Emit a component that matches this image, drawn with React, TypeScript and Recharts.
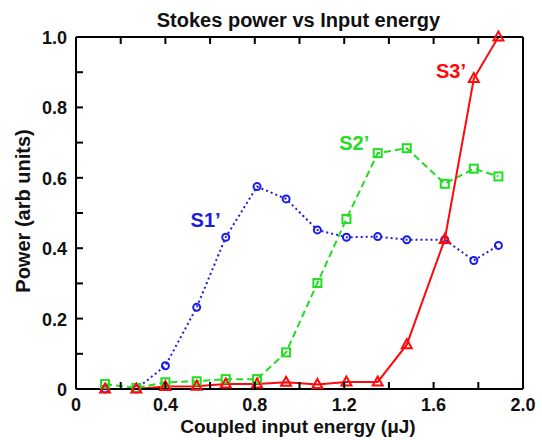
import React from 'react';
import {
  LineChart,
  Line,
  XAxis,
  YAxis,
  ReferenceDot,
} from 'recharts';

// coupled input energy (uJ)
const energy = [0.13, 0.27, 0.4, 0.54, 0.67, 0.81, 0.94, 1.08, 1.21, 1.35, 1.48, 1.65, 1.78, 1.89];
// stokes powers (arb units)
const s1 = [0.0, 0.0, 0.066, 0.232, 0.431, 0.575, 0.54, 0.452, 0.431, 0.433, 0.424, 0.424, 0.365, 0.408];
const s2 = [0.014, 0.003, 0.019, 0.022, 0.028, 0.028, 0.104, 0.301, 0.483, 0.67, 0.684, 0.583, 0.626, 0.604];
const s3 = [0.0, 0.0, 0.007, 0.008, 0.014, 0.014, 0.019, 0.013, 0.02, 0.02, 0.126, 0.425, 0.882, 1.0];

const xTicks = [0, 0.2, 0.4, 0.6, 0.8, 1.0, 1.2, 1.4, 1.6, 1.8, 2.0];
const xTickLabels: Record<string, string> = { '0': '0', '0.4': '0.4', '0.8': '0.8', '1.2': '1.2', '1.6': '1.6', '2': '2.0' };
const yTicks = [0, 0.1, 0.2, 0.3, 0.4, 0.5, 0.6, 0.7, 0.8, 0.9, 1.0];
const yTickLabels: Record<string, string> = { '0': '0', '0.2': '0.2', '0.4': '0.4', '0.6': '0.6', '0.8': '0.8', '1': '1.0' };

const data = energy.map((x, i) => ({ x, s1: s1[i], s2: s2[i], s3: s3[i] }));

const BLUE = '#1c1ce0';
const GREEN = '#22dd22';
const RED = '#ff0a0a';
const FONT = '"Liberation Sans", Arial, sans-serif';
const TICK = 7;

const textStyle = { fontFamily: FONT, fontWeight: 'bold' as const, fontSize: 18, fill: '#111' };

const BottomTick = (props: any) => {
  const { x, y, payload } = props;
  const lab = xTickLabels[String(payload.value)];
  return (
    <g>
      <line x1={x} y1={y} x2={x} y2={y - TICK} stroke="#000" strokeWidth={2} />
      {lab && (
        <text x={x} y={y + 22} textAnchor="middle" {...textStyle}>
          {lab}
        </text>
      )}
    </g>
  );
};

const TopTick = (props: any) => {
  const { x, y } = props;
  return <line x1={x} y1={y} x2={x} y2={y + TICK} stroke="#000" strokeWidth={2} />;
};

const LeftTick = (props: any) => {
  const { x, y, payload } = props;
  const lab = yTickLabels[String(payload.value)];
  return (
    <g>
      <line x1={x} y1={y} x2={x + TICK} y2={y} stroke="#000" strokeWidth={2} />
      {lab && (
        <text x={x - 9} y={y + 7} textAnchor="end" {...textStyle}>
          {lab}
        </text>
      )}
    </g>
  );
};

const RightTick = (props: any) => {
  const { x, y } = props;
  return <line x1={x} y1={y} x2={x - TICK} y2={y} stroke="#000" strokeWidth={2} />;
};

const SquareDot = (props: any) => {
  const { cx, cy, index } = props;
  return <rect key={`sq-${index}`} x={cx - 4} y={cy - 4} width={8} height={8} fill="none" stroke={GREEN} strokeWidth={2} />;
};

const TriangleDot = (props: any) => {
  const { cx, cy, index } = props;
  return (
    <polygon
      key={`tr-${index}`}
      points={`${cx},${cy - 5.5} ${cx - 5},${cy + 3.5} ${cx + 5},${cy + 3.5}`}
      fill="none"
      stroke={RED}
      strokeWidth={2}
    />
  );
};

const labelStyle = (fill: string) => ({ position: 'center' as const, fill, fontSize: 20, fontWeight: 'bold', fontFamily: FONT });

const App: React.FC = () => (
  <div style={{ position: 'absolute', left: 0, top: 0, width: 542, height: 440, background: '#fff' }}>
    <LineChart width={542} height={440} data={data} margin={{ top: 27, right: 9, bottom: 21, left: 36 }}>
      <XAxis
        dataKey="x"
        type="number"
        domain={[0, 2]}
        ticks={xTicks}
        interval={0}
        tickSize={0}
        tickMargin={0}
        tick={<BottomTick />}
        height={30}
        stroke="#000"
        strokeWidth={2}
      />
      <XAxis
        xAxisId="top"
        orientation="top"
        dataKey="x"
        type="number"
        domain={[0, 2]}
        ticks={xTicks}
        interval={0}
        tickSize={0}
        tickMargin={0}
        tick={<TopTick />}
        height={10}
        stroke="#000"
        strokeWidth={2}
      />
      <YAxis
        type="number"
        domain={[0, 1]}
        ticks={yTicks}
        interval={0}
        tickSize={0}
        tickMargin={0}
        tick={<LeftTick />}
        width={40}
        stroke="#000"
        strokeWidth={2}
      />
      <YAxis
        yAxisId="right"
        orientation="right"
        type="number"
        domain={[0, 1]}
        ticks={yTicks}
        interval={0}
        tickSize={0}
        tickMargin={0}
        tick={<RightTick />}
        width={10}
        stroke="#000"
        strokeWidth={2}
      />
      <Line
        type="linear"
        dataKey="s1"
        stroke={BLUE}
        strokeWidth={2}
        strokeDasharray="2 3"
        dot={{ r: 3.5, stroke: BLUE, fill: 'none', strokeWidth: 2, strokeDasharray: '' }}
        isAnimationActive={false}
      />
      <Line
        type="linear"
        dataKey="s2"
        stroke={GREEN}
        strokeWidth={2}
        strokeDasharray="7 4"
        dot={<SquareDot />}
        isAnimationActive={false}
      />
      <Line
        type="linear"
        dataKey="s3"
        stroke={RED}
        strokeWidth={2}
        dot={<TriangleDot />}
        isAnimationActive={false}
      />
      <ReferenceDot x={0.58} y={0.481} r={0} fill="none" stroke="none" label={{ value: 'S1’', ...labelStyle(BLUE) }} />
      <ReferenceDot x={1.245} y={0.698} r={0} fill="none" stroke="none" label={{ value: 'S2’', ...labelStyle(GREEN) }} />
      <ReferenceDot x={1.678} y={0.905} r={0} fill="none" stroke="none" label={{ value: 'S3’', ...labelStyle(RED) }} />
    </LineChart>
    <div style={{ position: 'absolute', left: 0, width: 597, top: 10, textAlign: 'center', fontFamily: FONT, fontWeight: 'bold', fontSize: 20, color: '#111', lineHeight: '20px', whiteSpace: 'nowrap' }}>
      Stokes power vs Input energy
    </div>
    <div style={{ position: 'absolute', left: 0, width: 596, top: 417, textAlign: 'center', fontFamily: FONT, fontWeight: 'bold', fontSize: 19, color: '#111', lineHeight: '20px', whiteSpace: 'nowrap' }}>
      Coupled input energy (μJ)
    </div>
    <div style={{ position: 'absolute', left: 23, top: 211, width: 0, height: 0 }}>
      <div style={{ position: 'absolute', left: -100, top: -10, width: 200, textAlign: 'center', transform: 'rotate(-90deg)', fontFamily: FONT, fontWeight: 'bold', fontSize: 20, color: '#111', lineHeight: '20px', whiteSpace: 'nowrap' }}>
        Power (arb units)
      </div>
    </div>
  </div>
);

export default App;
